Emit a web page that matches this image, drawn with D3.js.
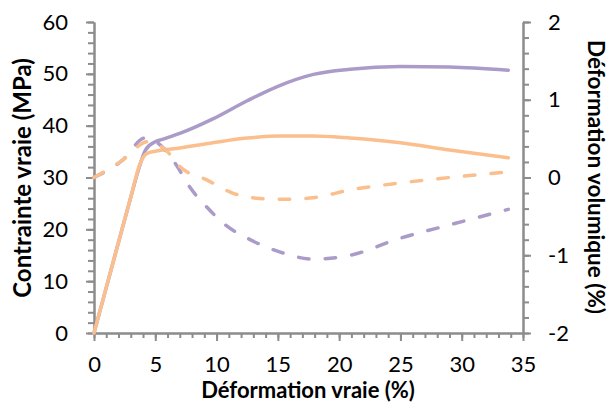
<!DOCTYPE html>
<html>
<head>
<meta charset="utf-8">
<script src="https://cdn.jsdelivr.net/npm/d3@7"></script>
<style>
  html, body { margin: 0; padding: 0; background: #fff; }
  svg { display: block; }
  text { font-family: Lato, "Open Sans", sans-serif; fill: #000; }
</style>
</head>
<body>
<svg id="chart" width="609" height="405"></svg>
<script>
// ---- data ----
const xTicks = [0, 5, 10, 15, 20, 25, 30, 35];
const stressTicks = [0, 10, 20, 30, 40, 50, 60];
const volTicks = [-2, -1, 0, 1, 2];

// Purple specimen: true stress (MPa) vs true strain (%)
const purpleStressX = [0, 1, 2, 3, 3.6, 4.2, 5.0, 5.5, 7.0, 9.7, 12.5, 15.0, 17.9, 20.9, 25, 29, 33.8];
const purpleStressY = [0, 8.75, 17.5, 26.2, 31.3, 35.3, 36.9, 37.3, 38.5, 41.3, 44.8, 47.6, 49.9, 50.9, 51.4, 51.3, 50.7];
// Orange specimen: true stress
const orangeStressX = [0, 1, 2, 3, 3.75, 4.3, 5.1, 7.0, 9.7, 12.5, 15.2, 17.9, 20.9, 25, 29, 33.8];
const orangeStressY = [0, 8.75, 17.5, 26.2, 32.6, 34.6, 35.1, 35.7, 36.7, 37.6, 38.0, 38.0, 37.6, 36.7, 35.3, 33.8];
// Purple specimen: volumetric strain (%)
const purpleVolX = [0, 2.3, 4.2, 5.6, 6.8, 7.8, 9.2, 10.8, 12.5, 15.2, 17.9, 20.9, 25, 29, 33.8];
const purpleVolY = [0, 0.22, 0.51, 0.39, 0.14, -0.12, -0.38, -0.62, -0.78, -0.96, -1.05, -1.0, -0.78, -0.61, -0.41];
// Orange specimen: volumetric strain (%)
const orangeVolX = [0, 2.3, 4.4, 6.0, 7.0, 9.2, 11.3, 13.5, 15.5, 17.9, 20.9, 25, 29, 33.7];
const orangeVolY = [0, 0.22, 0.46, 0.33, 0.14, -0.03, -0.2, -0.27, -0.28, -0.26, -0.16, -0.07, 0.0, 0.07];

// ---- layout ----
const L = 94, R = 523, T = 22, B = 333;
const purple = "#ab9bc9", orange = "#fbbf8e", axisCol = "#8c8c8c";
const fontFam = "Lato, 'Open Sans', sans-serif";

const svg = d3.select("#chart");
const x = d3.scaleLinear().domain([0, 35]).range([L, R]);
const yL = d3.scaleLinear().domain([0, 60]).range([B, T]);
const yR = d3.scaleLinear().domain([-2, 2]).range([B, T]);

function styleAxis(g) {
  g.select(".domain").attr("stroke", axisCol).attr("stroke-width", 2);
  g.selectAll(".tick line").attr("stroke", axisCol).attr("stroke-width", 2);
  g.selectAll("text").style("font-family", fontFam).style("font-size", "22px").attr("fill", "#000");
}

// minor ticks
svg.append("g").attr("transform", `translate(0,${B})`)
  .call(d3.axisBottom(x).tickValues(d3.range(0, 36, 1)).tickSize(5).tickFormat("").tickSizeOuter(0))
  .call(styleAxis);
svg.append("g").attr("transform", `translate(${L},0)`)
  .call(d3.axisLeft(yL).tickValues(d3.range(0, 61, 2)).tickSize(6).tickFormat("").tickSizeOuter(0))
  .call(styleAxis);
svg.append("g").attr("transform", `translate(${R},0)`)
  .call(d3.axisRight(yR).tickValues(d3.range(-2, 2.01, 0.2)).tickSize(6).tickFormat("").tickSizeOuter(0))
  .call(styleAxis);

// major ticks + labels
svg.append("g").attr("transform", `translate(0,${B})`)
  .call(d3.axisBottom(x).tickValues(xTicks).tickSize(8).tickPadding(15).tickSizeOuter(0))
  .call(styleAxis);
svg.append("g").attr("transform", `translate(${L},0)`)
  .call(d3.axisLeft(yL).tickValues(stressTicks).tickSize(8).tickPadding(18).tickSizeOuter(0))
  .call(styleAxis);
svg.append("g").attr("transform", `translate(${R},0)`)
  .call(d3.axisRight(yR).tickValues(volTicks).tickSize(8).tickPadding(17).tickFormat(d => String(d)).tickSizeOuter(0))
  .call(styleAxis);

// axis titles, sized to the reference's text extents
function title(text, transform, targetLen, maxSize) {
  const t = svg.append("text").attr("transform", transform).attr("text-anchor", "middle")
    .style("font-family", fontFam).style("font-weight", "bold").style("font-size", "20px").text(text);
  const len = t.node().getComputedTextLength();
  const size = Math.min(maxSize, 20 * targetLen / len);
  t.style("font-size", size.toFixed(2) + "px");
  return t;
}
title("Déformation vraie (%)", "translate(308,398)", 243, 22);
title("Contrainte vraie (MPa)", "translate(31,178) rotate(-90)", 250, 24);
title("Déformation volumique (%)", "translate(588,177) rotate(90)", 308, 22.5);

// series
function draw(xs, ys, yScale, color, dashed) {
  const pts = xs.map((v, i) => [v, ys[i]]);
  const line = d3.line().x(d => x(d[0])).y(d => yScale(d[1])).curve(d3.curveMonotoneX);
  svg.append("path").datum(pts).attr("d", line)
    .attr("fill", "none").attr("stroke", color).attr("stroke-width", 3.5)
    .attr("stroke-linecap", "round")
    .attr("stroke-dasharray", dashed ? "10.5,16.2" : null);
}
draw(purpleStressX, purpleStressY, yL, purple, false);
draw(orangeStressX, orangeStressY, yL, orange, false);
draw(purpleVolX, purpleVolY, yR, purple, true);
draw(orangeVolX, orangeVolY, yR, orange, true);
</script>
</body>
</html>
